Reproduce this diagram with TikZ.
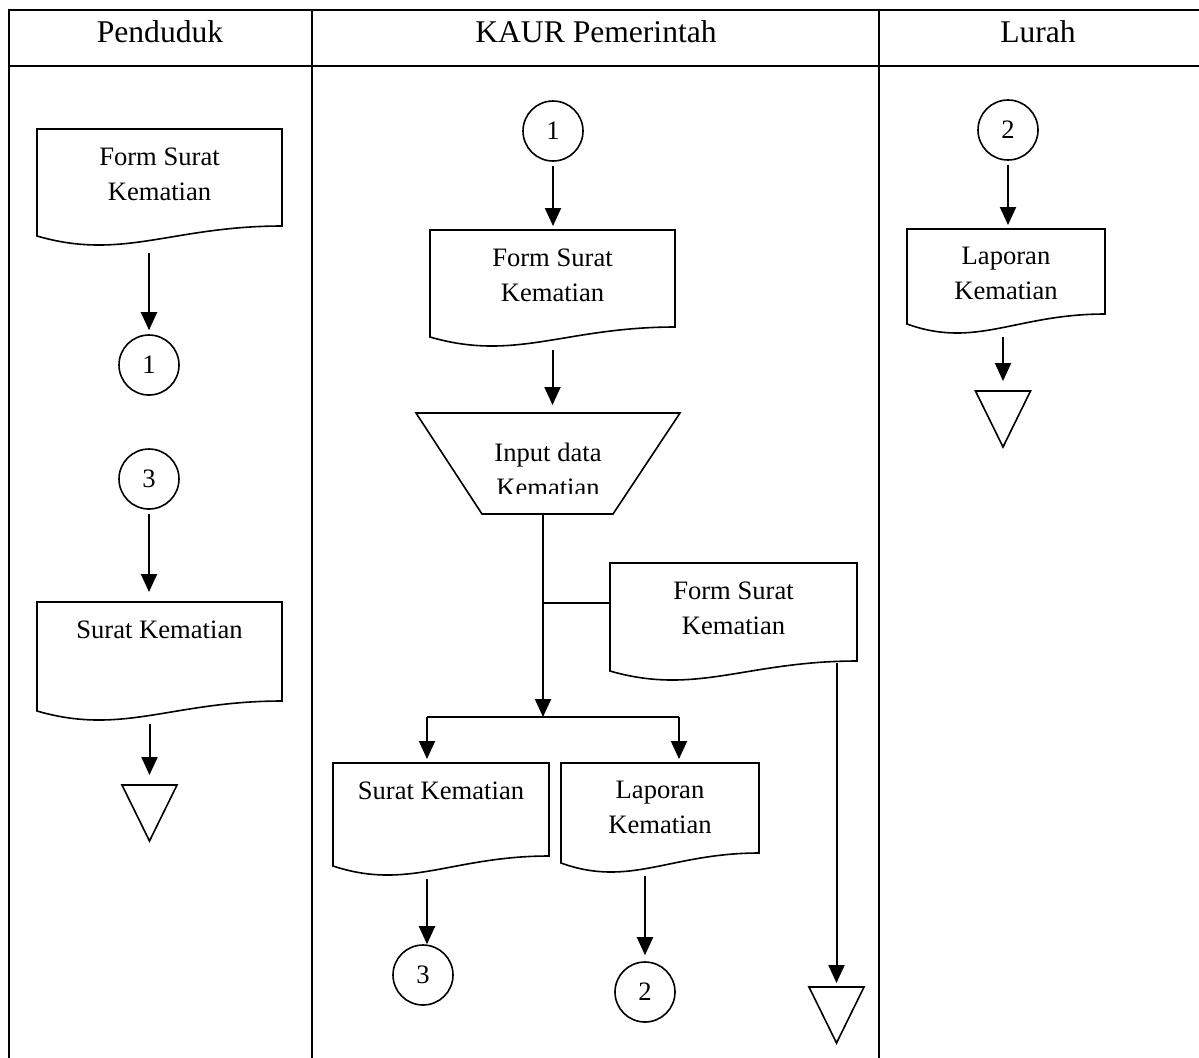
\documentclass[tikz,border=0pt]{standalone}
\usepackage{fontspec}
\setmainfont{Liberation Serif}
\usetikzlibrary{arrows.meta,calc}

\tikzset{
  kotak/.style={rectangle,inner sep=0pt,outer sep=0pt},
  garis/.style={line width=0.8pt,line join=miter},
  teks/.style={align=center,inner sep=0pt,font=\fontsize{13.3}{17.5}\selectfont},
  judul/.style={inner sep=0pt,font=\fontsize{15.8}{19}\selectfont},
  konektor/.style={circle,draw,line width=0.8pt,minimum size=30pt,inner sep=0pt,font=\fontsize{13.3}{17.5}\selectfont},
  panah/.style={line width=1pt,-{Triangle[length=9pt,width=8pt]},shorten >=2pt,shorten <=2pt},
  tabel/.style={line width=1pt}
}

% dokumen: nama, x kiri, atas, lebar, tinggi, teks
\newcommand{\dok}[6]{%
  \node[kotak,minimum width=#4*0.5pt,minimum height=#5*0.5pt,anchor=north west] (#1) at (#2,#3) {};
  \draw[garis] ($(#1.south west)+(0,-9)$) -- (#1.north west) -- (#1.north east)
    -- ($(#1.south east)+(0,-19)$) .. controls +(-0.45*#4,0) and +(0.35*#4,25) .. ($(#1.south west)+(0,-9)$) -- cycle;
  \node[teks,anchor=north] (#1-teks) at ($(#1.north)+(0,18)$) {#6};}

% segitiga arsip: nama, x tengah, atas
\newcommand{\segitiga}[3]{%
  \node[kotak,minimum width=27.5pt,minimum height=28pt,anchor=north] (#1) at (#2,#3) {};
  \draw[garis] (#1.north west) -- (#1.north east) -- (#1.south) -- cycle;}

\begin{document}
\begin{tikzpicture}[x=0.5pt,y=-0.5pt]
  \useasboundingbox (0,0) rectangle (1199,1057);
  % tabel
  \draw[tabel] (9,1062) -- (9,10) -- (1205,10);
  \draw[tabel] (9,66) -- (1205,66);
  \draw[tabel] (312,10) -- (312,1062);
  \draw[tabel] (879,10) -- (879,1062);
  \node[judul,anchor=base] (hpenduduk) at (160,42) {Penduduk};
  \node[judul,anchor=base] (hkaur) at (596,42) {KAUR Pemerintah};
  \node[judul,anchor=base] (hlurah) at (1038,42) {Lurah};

  % Penduduk
  \dok{fsk1}{37}{129}{245}{116}{Form Surat\\Kematian}
  \node[konektor] (p1) at (149,365) {1};
  \node[konektor] (p3) at (149,479) {3};
  \dok{sk1}{37}{602}{245}{118}{Surat Kematian}
  \segitiga{akhir1}{149.5}{785}
  \draw[panah,shorten <=4pt] (p1 |- fsk1.south) -- (p1);
  \draw[panah,shorten >=5pt] (p3) -- (p3 |- sk1.north);
  \draw[panah,shorten >=5pt] (akhir1 |- sk1.south) -- (akhir1);

  % KAUR Pemerintah
  \node[konektor] (k1) at (553,131) {1};
  \dok{fsk2}{430}{230}{245}{116}{Form Surat\\Kematian}
  \node[kotak,minimum width=132pt,minimum height=50.5pt,anchor=north] (inp) at (548,413) {};
  \draw[garis] (inp.north west) -- (inp.north east) -- ($(inp.south east)+(-67,0)$)
    -- ($(inp.south west)+(66,0)$) -- cycle;
  \begin{scope}
    \clip (416,413) rectangle (680,493);
    \node[teks,anchor=north] (inp-teks) at (548,443) {Input data\\Kematian};
  \end{scope}
  \coordinate (cab) at (543,717);
  \coordinate (kiri) at (427,717);
  \coordinate (kanan) at (679,717);
  \coordinate (simpang) at (543,603);
  \dok{fsk3}{610}{563}{247}{117}{Form Surat\\Kematian}
  \dok{sk2}{333}{763}{216}{112}{Surat Kematian}
  \dok{lk1}{561}{763}{198}{109}{Laporan\\Kematian}
  \node[konektor] (k3) at (423,975) {3};
  \node[konektor] (k2) at (645,992) {2};
  \segitiga{akhir2}{836.5}{987}
  \draw[panah] (k1) -- (k1 |- fsk2.north);
  \draw[panah,shorten >=4pt] (fsk2.south) -- (fsk2.south |- inp.north);
  \draw[panah,shorten <=0pt,shorten >=0pt] (inp.south -| cab) -- (cab);
  \draw[line width=1pt] (kiri) -- (kanan);
  \draw[line width=1pt] (simpang) -- (simpang -| fsk3.west);
  \draw[panah,shorten <=0pt] (kiri) -- (kiri |- sk2.north);
  \draw[panah,shorten <=0pt] (kanan) -- (kanan |- lk1.north);
  \draw[panah,shorten >=0pt] (kiri |- sk2.south) -- (kiri |- k3.north);
  \draw[panah,shorten >=3pt] (k2 |- lk1.south) -- (k2);
  \draw[panah,shorten <=0pt] ($(akhir2 |- fsk3.south)+(0,-17)$) -- (akhir2);

  % Lurah
  \node[konektor] (l2) at (1008,130) {2};
  \dok{lk2}{907}{229}{198}{104}{Laporan\\Kematian}
  \segitiga{akhir3}{1003}{391}
  \draw[panah] (l2) -- (l2 |- lk2.north);
  \draw[panah,shorten >=5pt] (akhir3 |- lk2.south) -- (akhir3);
\end{tikzpicture}
\end{document}
